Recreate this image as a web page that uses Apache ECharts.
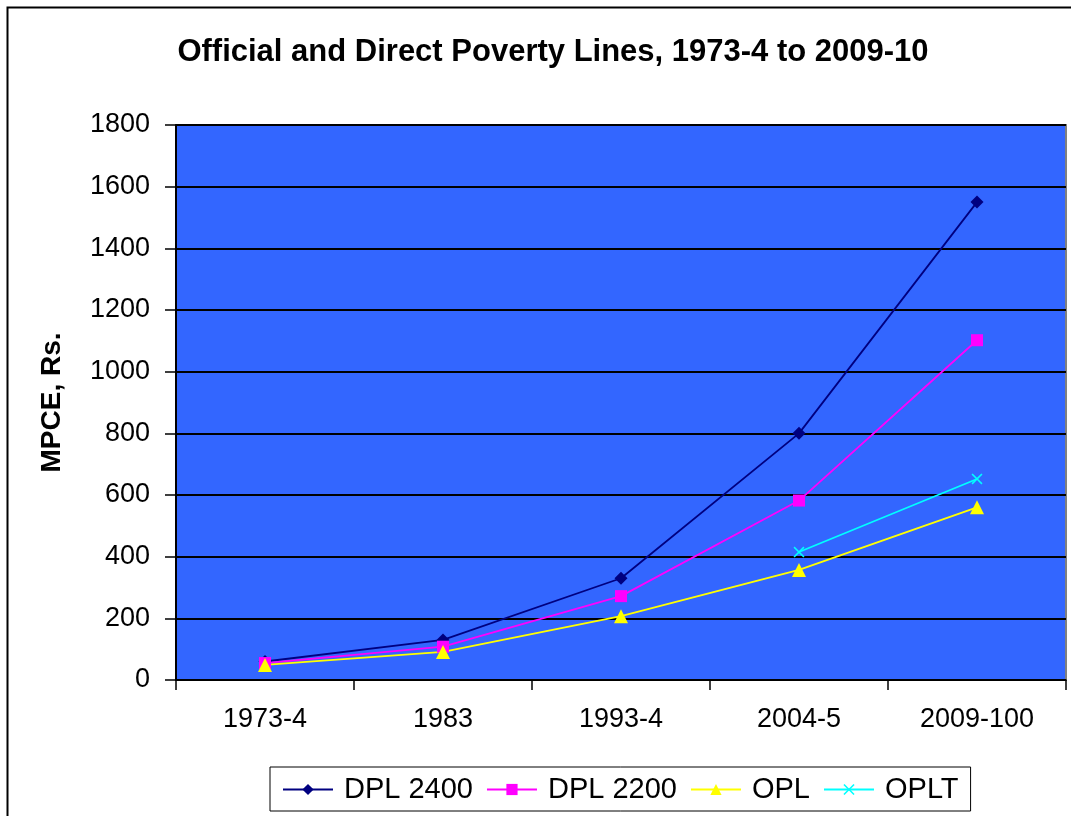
<!DOCTYPE html>
<html>
<head>
<meta charset="utf-8">
<script src="https://cdn.jsdelivr.net/npm/echarts@6/dist/echarts.min.js"></script>
<style>
html,body{margin:0;padding:0;background:#fff;}
#chart{width:1071px;height:816px;}
</style>
</head>
<body>
<div id="chart"></div>
<script>
const categories = ['1973-4', '1983', '1993-4', '2004-5', '2009-100'];
const dpl2400 = [60, 130, 330, 800, 1550];
const dpl2200 = [55, 108, 272, 582, 1102];
const opl = [49, 91, 207, 357, 560];
const oplt = [null, null, null, 415, 652];
const yTicks = [0, 200, 400, 600, 800, 1000, 1200, 1400, 1600, 1800];

const xSymbol = 'path://M0,1 L1,0 L5,4 L9,0 L10,1 L6,5 L10,9 L9,10 L5,6 L1,10 L0,9 L4,5 Z';
const font = '"Liberation Sans", Arial, sans-serif';

const chart = echarts.init(document.getElementById('chart'));
chart.setOption({
  animation: false,
  backgroundColor: '#ffffff',
  title: {
    text: 'Official and Direct Poverty Lines, 1973-4 to 2009-10',
    left: 548, top: 32, textAlign: 'center',
    textStyle: {fontFamily: font, fontWeight: 'bold', fontSize: 31, color: '#000'}
  },
  graphic: [{
    type: 'rect', left: 5, top: 5, z: 100,
    shape: {width: 1080, height: 830},
    style: {fill: 'none', stroke: '#000', lineWidth: 2}
  }],
  grid: {left: 176, right: 5, top: 125, bottom: 136, show: true, backgroundColor: '#3366ff', borderColor: '#808080', borderWidth: 2},
  legend: {
    left: 270, top: 767, width: 710,
    borderColor: '#000', borderWidth: 1, padding: [8, 12, 7, 12],
    itemGap: 13, itemWidth: 50, itemHeight: 14,
    textStyle: {fontFamily: font, fontSize: 29, color: '#000', padding: [0, 0, 0, 6]},
    data: ['DPL 2400', 'DPL 2200', 'OPL', 'OPLT']
  },
  xAxis: {
    type: 'category', data: categories, boundaryGap: true,
    axisLine: {lineStyle: {color: '#000', width: 1.5}},
    axisTick: {show: true, alignWithLabel: false, length: 10, interval: 0, lineStyle: {color: '#000', width: 1.5}},
    axisLabel: {fontFamily: font, fontSize: 27, color: '#000', margin: 26, interval: 0},
    splitLine: {show: false}
  },
  yAxis: {
    type: 'value', min: 0, max: 1800, interval: 200,
    name: 'MPCE, Rs.', nameLocation: 'middle', nameGap: 110,
    nameTextStyle: {fontFamily: font, fontWeight: 'bold', fontSize: 28, color: '#000'},
    axisLine: {show: true, lineStyle: {color: '#000', width: 2}},
    axisTick: {show: true, length: 11, lineStyle: {color: '#000', width: 1.5}},
    axisLabel: {fontFamily: font, fontSize: 27, color: '#000', margin: 26,
      formatter: v => yTicks.includes(v) ? String(v) : ''},
    splitLine: {show: true, lineStyle: {color: '#000', width: 2}}
  },
  series: [
    {name: 'DPL 2400', type: 'line', data: dpl2400, symbol: 'diamond', symbolSize: 13,
      lineStyle: {color: '#000080', width: 1.8}, itemStyle: {color: '#000080'}},
    {name: 'DPL 2200', type: 'line', data: dpl2200, symbol: 'rect', symbolSize: 12,
      lineStyle: {color: '#ff00ff', width: 1.8}, itemStyle: {color: '#ff00ff'}},
    {name: 'OPL', type: 'line', data: opl, symbol: 'triangle', symbolSize: 14,
      lineStyle: {color: '#ffff00', width: 1.8}, itemStyle: {color: '#ffff00'}},
    {name: 'OPLT', type: 'line', data: oplt, symbol: xSymbol, symbolSize: 11,
      lineStyle: {color: '#00ffff', width: 1.8}, itemStyle: {color: '#00ffff'}}
  ]
});
</script>
</body>
</html>
